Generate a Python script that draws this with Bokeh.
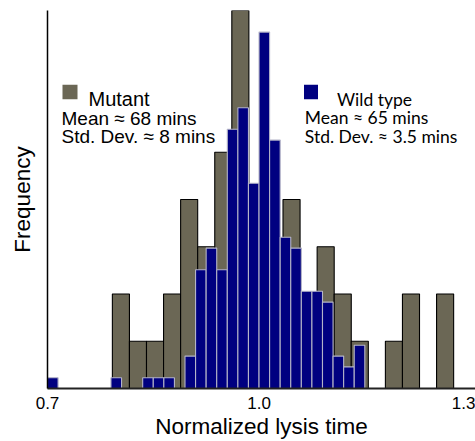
import numpy as np
from bokeh.plotting import figure
from bokeh.models import Range1d, FixedTicker, Label, BoxAnnotation, ColumnDataSource
from bokeh.embed import file_html
from bokeh.resources import INLINE

# ---------------- data ----------------
# Wild type histogram (normalized lysis time), own frequency scale
wt_bin_start = 0.700
wt_bin_width = 0.015
wt_counts = [1, 0, 0, 0, 0, 0, 1, 0, 0, 1, 1, 1, 0, 3, 11, 13, 11, 24, 26, 19,
             33, 23, 14, 13, 9, 9, 8, 3, 2, 4]

# Mutant histogram
mut_bin_start = 0.792
mut_bin_width = 0.0242
mut_counts = [2, 1, 1, 2, 4, 3, 5, 8, 4, 3, 4, 2, 3, 2, 1, 0, 1, 2, 0, 2]

x_ticks = [0.7, 1.0, 1.3]
x_tick_labels = ["0.7", "1.0", "1.3"]

x_title = "Normalized lysis time"
y_title = "Frequency"
mut_legend = ["Mutant", "Mean \u2248 68 mins", "Std. Dev. \u2248 8 mins"]
wt_legend = ["Wild type", "Mean \u2248 65 mins", "Std. Dev. \u2248 3.5 mins"]

MUT_COLOR = "#6b6755"
WT_COLOR = "#000080"


def hist_source(start, width, counts):
    counts = np.asarray(counts, dtype=float)
    left = start + width * np.arange(len(counts))
    keep = counts > 0
    return ColumnDataSource(dict(left=left[keep], right=(left + width)[keep],
                                 top=counts[keep], bottom=np.zeros(keep.sum())))


p = figure(width=475, height=441, output_backend="svg", toolbar_location=None,
           x_range=Range1d(0.7, 1.307), y_range=Range1d(0, 8),
           min_border_left=47, min_border_right=0, min_border_top=10,
           min_border_bottom=48)
p.extra_y_ranges = {"wt": Range1d(0, 35)}
p.outline_line_color = None
p.grid.visible = False
p.background_fill_color = "white"
p.border_fill_color = "white"

p.quad(left="left", right="right", top="top", bottom="bottom",
       source=hist_source(mut_bin_start, mut_bin_width, mut_counts),
       fill_color=MUT_COLOR, line_color="black", line_width=1.1)
p.quad(left="left", right="right", top="top", bottom="bottom",
       source=hist_source(wt_bin_start, wt_bin_width, wt_counts),
       fill_color=WT_COLOR, line_color="#b4b4c8", line_width=1.1,
       y_range_name="wt")

FONT = "Liberation Sans"

xa = p.xaxis[0]
xa.ticker = FixedTicker(ticks=x_ticks)
xa.major_label_overrides = {t: l for t, l in zip(x_ticks, x_tick_labels)}
xa.major_tick_line_color = None
xa.minor_tick_line_color = None
xa.axis_line_color = "#222222"
xa.axis_line_width = 2
xa.major_label_text_font = FONT
xa.major_label_text_font_size = "17px"
xa.major_label_text_color = "black"
xa.major_label_standoff = 2
xa.axis_label = x_title
xa.axis_label_text_font = FONT
xa.axis_label_text_font_size = "22.5px"
xa.axis_label_text_font_style = "normal"
xa.axis_label_text_color = "black"
xa.axis_label_standoff = 2

ya = p.yaxis[0]
ya.ticker = FixedTicker(ticks=[])
ya.major_tick_line_color = None
ya.minor_tick_line_color = None
ya.axis_line_color = "black"
ya.axis_line_width = 1.5
ya.axis_label = y_title
ya.axis_label_text_font = FONT
ya.axis_label_text_font_size = "22.5px"
ya.axis_label_text_font_style = "normal"
ya.axis_label_text_color = "black"
ya.axis_label_standoff = 13

# legend blocks (screen units, relative to the plot frame: origin bottom-left)
FL, FB = 47, 393.3


def sx(cx):
    return cx - FL


def sy(cy):
    return FB - cy


def swatch(x0, x1, y0, y1, color):
    p.add_layout(BoxAnnotation(left=sx(x0), right=sx(x1), top=sy(y0), bottom=sy(y1),
                               left_units="screen", right_units="screen",
                               top_units="screen", bottom_units="screen",
                               fill_color=color, fill_alpha=1, line_color=None))


def text(x, y, t, font, size):
    p.add_layout(Label(x=sx(x), y=sy(y), x_units="screen", y_units="screen", text=t,
                       text_font=font, text_font_size=size, text_color="black",
                       text_baseline="alphabetic", text_align="left"))


swatch(62, 77, 89.5, 104, MUT_COLOR)
text(88, 104, mut_legend[0], FONT, "20px")
text(61, 123.3, mut_legend[1], FONT, "19px")
text(61, 141.7, mut_legend[2], FONT, "19px")

swatch(303.5, 317.5, 89.5, 104, WT_COLOR)
text(336.5, 104, wt_legend[0], "Lato", "17.5px")
text(304.3, 122.7, wt_legend[1], "Lato", "17.5px")
text(304.3, 141.7, wt_legend[2], "Lato", "17.5px")

open("out.html", "w").write(file_html(p, INLINE))
